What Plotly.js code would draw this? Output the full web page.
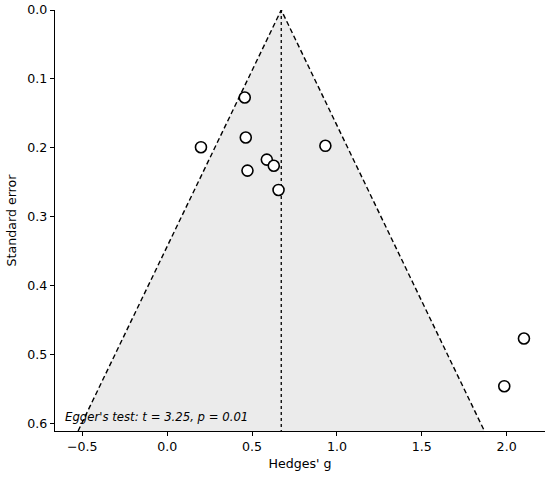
<!DOCTYPE html>
<html>
<head>
<meta charset="utf-8">
<script src="https://cdn.plot.ly/plotly-3.0.1.min.js"></script>
<style>html,body{margin:0;padding:0;background:#fff;}#chart{width:550px;height:477px;}</style>
</head>
<body>
<div id="chart"></div>
<script>
// Study effect sizes and standard errors
const hedgesG = [0.457, 0.199, 0.463, 0.932, 0.587, 0.628, 0.473, 0.656, 2.102, 1.986];
const stdError = [0.127, 0.199, 0.185, 0.197, 0.217, 0.226, 0.233, 0.261, 0.4765, 0.5457];
const pooledG = 0.672;
const seMax = 0.6107;
const zCrit = 1.96;
const xTicks = [-0.5, 0.0, 0.5, 1.0, 1.5, 2.0];
const xTickLabels = ['\u22120.5', '0.0', '0.5', '1.0', '1.5', '2.0'];
const yTicks = [0.0, 0.1, 0.2, 0.3, 0.4, 0.5, 0.6];
const yTickLabels = ['0.0', '0.1', '0.2', '0.3', '0.4', '0.5', '0.6'];
const eggerText = "Egger's test: t = 3.25, p = 0.01";

const leftEdge = pooledG - zCrit * seMax;
const rightEdge = pooledG + zCrit * seMax;

const font = {family: 'DejaVu Sans, sans-serif', size: 12.6, color: '#000'};

const traces = [
  {x: [pooledG, leftEdge, rightEdge, pooledG], y: [0, seMax, seMax, 0], mode: 'lines',
   fill: 'toself', fillcolor: '#ebebeb', line: {width: 0, color: 'rgba(0,0,0,0)'}, hoverinfo: 'skip'},
  {x: [leftEdge, pooledG, rightEdge], y: [seMax, 0, seMax], mode: 'lines',
   line: {color: '#000', width: 1.4, dash: '5px,3px'}, hoverinfo: 'skip'},
  {x: [pooledG, pooledG], y: [0, seMax], mode: 'lines',
   line: {color: '#000', width: 1.3, dash: 'dot'}, hoverinfo: 'skip'},
  {x: hedgesG, y: stdError, mode: 'markers',
   marker: {symbol: 'circle', size: 11, color: '#fff', line: {color: '#000', width: 1.6}}}
];

const layout = {
  width: 550, height: 477,
  margin: {l: 55, r: 5, t: 9.5, b: 46.3},
  paper_bgcolor: '#fff', plot_bgcolor: '#fff',
  showlegend: false,
  font: font,
  xaxis: {
    range: [-0.661, 2.226], tickvals: xTicks, ticktext: xTickLabels,
    showgrid: false, zeroline: false, showline: true, linecolor: '#000', linewidth: 1.2,
    ticks: 'outside', ticklen: 4, tickwidth: 1, tickcolor: '#000',
    tickfont: font, mirror: false,
    title: {text: "Hedges' g", font: font, standoff: 5}
  },
  yaxis: {
    range: [seMax, 0], tickvals: yTicks, ticktext: yTickLabels,
    showgrid: false, zeroline: false, showline: true, linecolor: '#000', linewidth: 1.2,
    ticks: 'outside', ticklen: 4, tickwidth: 1, tickcolor: '#000',
    tickfont: font, mirror: false,
    title: {text: 'Standard error', font: font, standoff: 7}
  },
  annotations: [{
    xref: 'paper', yref: 'paper', x: 0.016, y: 0.012, xanchor: 'left', yanchor: 'bottom',
    text: '<i>' + eggerText + '</i>', showarrow: false,
    font: {family: 'DejaVu Sans, sans-serif', size: 11.7, color: '#000'}
  }]
};

Plotly.newPlot('chart', traces, layout, {displayModeBar: false, staticPlot: true});
</script>
</body>
</html>
